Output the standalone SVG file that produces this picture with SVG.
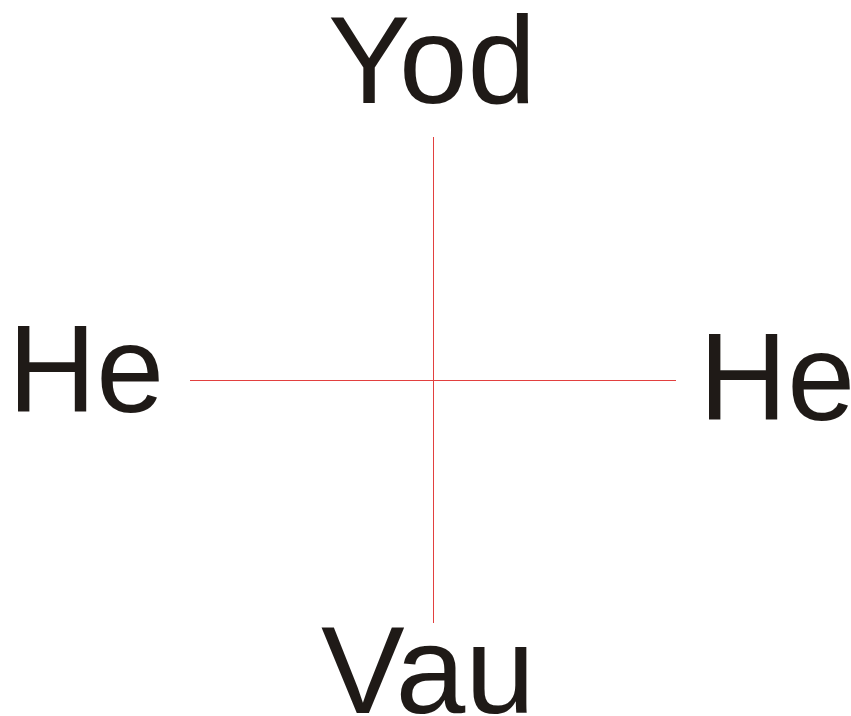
<svg xmlns="http://www.w3.org/2000/svg" width="851" height="716" viewBox="0 0 851 716">
<style>
.lbl{font-family:"Liberation Sans",Arial,sans-serif;font-size:125px;fill:#1f1a17;}
.ax{stroke:#e2403f;stroke-width:1;fill:none;}
</style>
<rect width="851" height="716" fill="#ffffff"/>
<g id="connectors">
<line class="ax" x1="433.5" y1="137" x2="433.5" y2="623"/>
<line class="ax" x1="190" y1="380.5" x2="676" y2="380.5"/>
</g>
<g id="yod"><text class="lbl" x="328" y="103" textLength="208" lengthAdjust="spacingAndGlyphs">Yod</text></g>
<g id="he-left"><text class="lbl" x="8" y="412" textLength="156" lengthAdjust="spacingAndGlyphs">He</text></g>
<g id="he-right"><text class="lbl" x="699" y="420" textLength="156" lengthAdjust="spacingAndGlyphs">He</text></g>
<g id="vau"><text class="lbl" x="321" y="713" textLength="214" lengthAdjust="spacingAndGlyphs">Vau</text></g>
</svg>
